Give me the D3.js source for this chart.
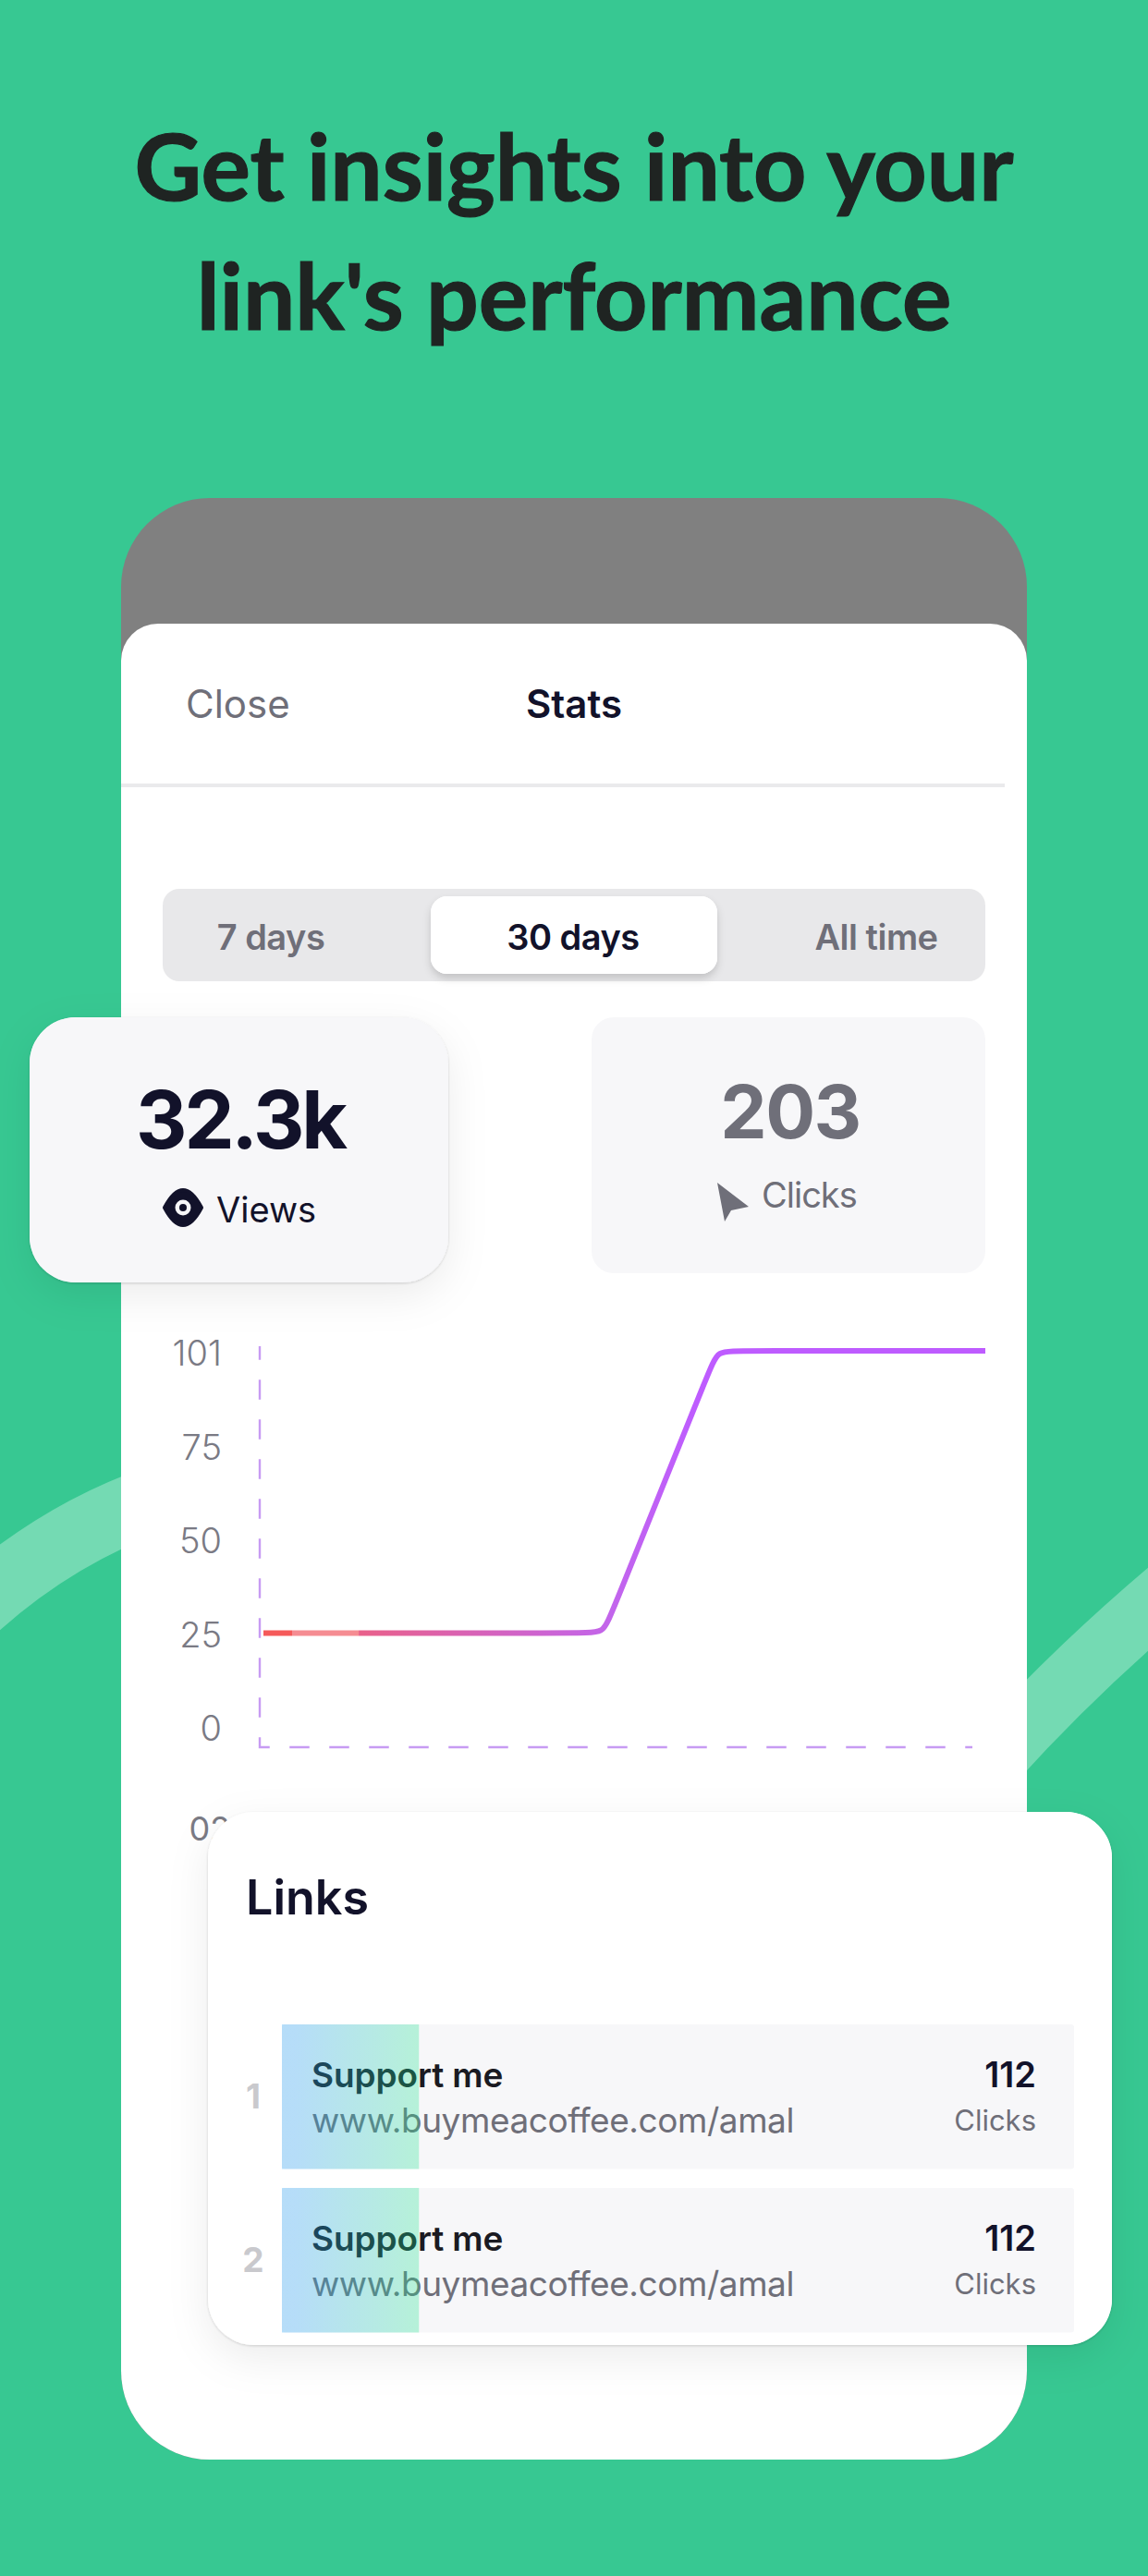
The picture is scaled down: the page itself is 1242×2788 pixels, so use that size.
<!DOCTYPE html>
<html><head><meta charset="utf-8">
<script src="https://cdn.jsdelivr.net/npm/d3@7"></script>
<style>html,body{margin:0;padding:0;background:#37C892}svg{display:block}text{font-family:Inter,sans-serif}</style>
</head><body><svg id="c" width="1242" height="2788"></svg>
<script>
const lineDays=[0,13.17,14.14,14.42,18.58,18.86,19.78,30];
const lineValues=[25,25,25,29.6,96.4,101,101,101];
const yTickValues=[0,25.25,50.5,75.75,101];
const xTickValues=[0];
const xTickLabels=["02"];
const periods=["7 days","30 days","All time"];
const titleLines=["Get insights into your","link's performance"];
const linkRanks=["1","2"];
const linkNames=["Support me","Support me"];
const linkUrls=["www.buymeacoffee.com/amal","www.buymeacoffee.com/amal"];
const linkClicks=[112,112];
const linkShare=[17.3,17.3];

const svg=d3.select("#c");
const defs=svg.append("defs");
const GREEN="#37C892",INK="#12122A",GREY="#6F6F79",PANEL="#F7F7F9";
function shadow(id,dy,sd,op,edge){
  const f=defs.append("filter").attr("id",id).attr("x","-30%").attr("y","-30%").attr("width","160%").attr("height","170%");
  f.append("feDropShadow").attr("dx",0).attr("dy",dy).attr("stdDeviation",sd).attr("flood-color","#000").attr("flood-opacity",op).attr("result","a");
  f.append("feDropShadow").attr("in","SourceGraphic").attr("dx",0).attr("dy",1).attr("stdDeviation",1.5).attr("flood-color","#000").attr("flood-opacity",edge).attr("result","b");
  const m=f.append("feMerge");m.append("feMergeNode").attr("in","a");m.append("feMergeNode").attr("in","b");
}
shadow("cardShadow",14,22,.075,.16);
shadow("segShadow",5,4,.16,0);

svg.append("rect").attr("width",1242).attr("height",2788).attr("fill",GREEN);
svg.append("path").attr("d","M-40,1752 Q55,1662 170,1622").attr("fill","none").attr("stroke","#74DAB3").attr("stroke-width",72);
svg.append("path").attr("d","M1075,1905 Q1170,1800 1285,1705").attr("fill","none").attr("stroke","#74DAB3").attr("stroke-width",68);

svg.selectAll("text.title").data(titleLines).join("text").attr("class","title")
  .attr("x",621).attr("y",(d,i)=>217+i*140).attr("text-anchor","middle")
  .style("font-family","Lato").style("font-weight",700).style("font-size","100px")
  .attr("fill","#1F2422").attr("stroke","#1F2422").attr("stroke-width",1.2).text(d=>d);

svg.append("rect").attr("x",131).attr("y",539).attr("width",980).attr("height",2123).attr("rx",96).attr("fill","#808080");
svg.append("path").attr("d","M131,715 a40,40 0 0 1 40,-40 H1071 a40,40 0 0 1 40,40 V2566 a96,96 0 0 1 -96,96 H227 a96,96 0 0 1 -96,-96 Z").attr("fill","#fff");

svg.append("text").attr("x",201).attr("y",777).attr("font-size",42).attr("fill",GREY).text("Close");
svg.append("text").attr("x",621).attr("y",777).attr("font-size",42).attr("font-weight",600).attr("text-anchor","middle").attr("fill",INK).text("Stats");
svg.append("rect").attr("x",131).attr("y",848).attr("width",956).attr("height",4).attr("fill","#EAEAEC");

svg.append("rect").attr("x",176).attr("y",962).attr("width",890).attr("height",100).attr("rx",18).attr("fill","#E8E8EA");
svg.append("rect").attr("x",466).attr("y",970).attr("width",310).attr("height",84).attr("rx",18).attr("fill","#fff").attr("filter","url(#segShadow)");
const segX=[293,620,948];
svg.selectAll("text.seg").data(periods).join("text").attr("class","seg")
  .attr("x",(d,i)=>segX[i]).attr("y",1028).attr("text-anchor","middle").attr("font-size",38).attr("font-weight",600)
  .attr("letter-spacing",-0.5).attr("fill",(d,i)=>i==1?INK:GREY).text(d=>d);

svg.append("rect").attr("x",640).attr("y",1101).attr("width",426).attr("height",277).attr("rx",24).attr("fill",PANEL);
svg.append("text").attr("x",855).attr("y",1232).attr("text-anchor","middle").attr("font-size",80).attr("font-weight",700).attr("letter-spacing",-1.5).attr("fill",GREY).text("203");
svg.append("path").attr("d","M776,1280 L810,1306 L791,1310 L784,1322 Z").attr("fill",GREY);
svg.append("text").attr("x",824).attr("y",1307).attr("font-size",38).attr("letter-spacing",-1).attr("fill",GREY).text("Clicks");

const x=d3.scaleLinear().domain([0,30]).range([285,1066]);
const y=d3.scaleLinear().domain([0,101]).range([1868,1462]);
const grad=defs.append("linearGradient").attr("id","lineGrad").attr("gradientUnits","userSpaceOnUse")
  .attr("x1",x(0)).attr("x2",x(30)).attr("y1",0).attr("y2",0);
[[0,"#F55A5A"],[1.18,"#F55A5A"],[1.2,"#F58C92"],[3.96,"#F58C92"],[3.98,"#E9608A"],[14.5,"#C265EC"],[18,"#BE5CFF"],[30,"#BE5CFF"]]
  .forEach(([d,c])=>grad.append("stop").attr("offset",d/30).attr("stop-color",c));
svg.append("path").attr("d",d3.line()([[281,1457],[281,1891],[1052,1891]])).attr("fill","none")
  .attr("stroke","#C79BF3").attr("stroke-width",2.4).attr("stroke-dasharray","21.5 21.5").attr("stroke-dashoffset",6.75);
const ya=svg.append("g").attr("transform","translate(240,3.5)").call(d3.axisLeft(y).tickValues(yTickValues).tickSize(0).tickPadding(0).tickFormat(d=>Math.floor(d)));
ya.select(".domain").remove();
ya.selectAll("text").style("font-family","Inter").attr("font-size",38).attr("fill","#7A7A84").attr("font-weight",300);
const xa=svg.append("g").attr("transform","translate(0,1992)").call(d3.axisBottom(x).tickValues(xTickValues).tickSize(0).tickPadding(0).tickFormat((d,i)=>xTickLabels[i]));
xa.select(".domain").remove();
xa.selectAll("text").style("font-family","Inter").attr("font-size",36).attr("fill","#7A7A84").attr("text-anchor","start").attr("dy",0).attr("y",0).attr("x",204-x(0));
svg.append("path").datum(lineDays.map((d,i)=>[d,lineValues[i]]))
  .attr("d",d3.line().x(d=>x(d[0])).y(d=>y(d[1])).curve(d3.curveBasis))
  .attr("fill","none").attr("stroke","url(#lineGrad)").attr("stroke-width",6);

svg.append("rect").attr("x",32).attr("y",1101).attr("width",453).attr("height",287).attr("rx",50).attr("fill",PANEL).attr("filter","url(#cardShadow)");
svg.append("text").attr("x",260).attr("y",1243).attr("text-anchor","middle").attr("font-size",86).attr("font-weight",700).attr("letter-spacing",-3.2).attr("fill",INK).text("32.3k");
svg.append("path").attr("d","M178,1307 Q198,1269 218,1307 Q198,1345 178,1307 Z").attr("fill",INK).attr("stroke",INK).attr("stroke-width",4).attr("stroke-linejoin","round");
svg.append("circle").attr("cx",198).attr("cy",1307).attr("r",8.5).attr("fill",PANEL);
svg.append("circle").attr("cx",198).attr("cy",1307).attr("r",4).attr("fill",INK);
svg.append("text").attr("x",234).attr("y",1323).attr("font-size",38).attr("fill",INK).text("Views");

svg.append("rect").attr("x",225).attr("y",1961).attr("width",978).attr("height",577).attr("rx",50).attr("fill","#fff").attr("filter","url(#cardShadow)");
svg.append("text").attr("x",266).attr("y",2072).attr("font-size",52).attr("font-weight",600).attr("fill",INK).text("Links");
const rowY=d3.scalePoint().domain(linkRanks).range([2191,2368]);
const share=d3.scaleLinear().domain([0,100]).range([0,857]);
const bg=defs.append("linearGradient").attr("id","barGrad");
bg.append("stop").attr("offset",0.1).attr("stop-color","#1EA0F7").attr("stop-opacity",.3);
bg.append("stop").attr("offset",1).attr("stop-color","#1EE38C").attr("stop-opacity",.3);
const rows=svg.selectAll("g.row").data(linkRanks).join("g").attr("class","row").attr("transform",d=>`translate(0,${rowY(d)})`);
rows.append("rect").attr("x",305).attr("width",857).attr("height",156.5).attr("rx",3).attr("fill",PANEL);
rows.append("text").attr("x",274).attr("y",91).attr("text-anchor","middle").attr("font-size",37).attr("font-weight",700).attr("fill","#C9C9CD").text(d=>d);
rows.append("text").attr("x",337).attr("y",68).attr("font-size",37).attr("font-weight",600).attr("letter-spacing",-0.1).attr("fill","#1A1A22").text((d,i)=>linkNames[i]);
rows.append("text").attr("x",337).attr("y",117).attr("font-size",37).attr("letter-spacing",-0.45).attr("fill",GREY).text((d,i)=>linkUrls[i]);
rows.append("text").attr("x",1121).attr("y",68).attr("text-anchor","end").attr("font-size",38).attr("font-weight",600).attr("fill",INK).text((d,i)=>linkClicks[i]);
rows.append("text").attr("x",1121).attr("y",115).attr("text-anchor","end").attr("font-size",31).attr("fill",GREY).text("Clicks");
rows.append("rect").attr("x",305).attr("width",(d,i)=>share(linkShare[i])).attr("height",156.5).attr("fill","url(#barGrad)");
</script></body></html>
